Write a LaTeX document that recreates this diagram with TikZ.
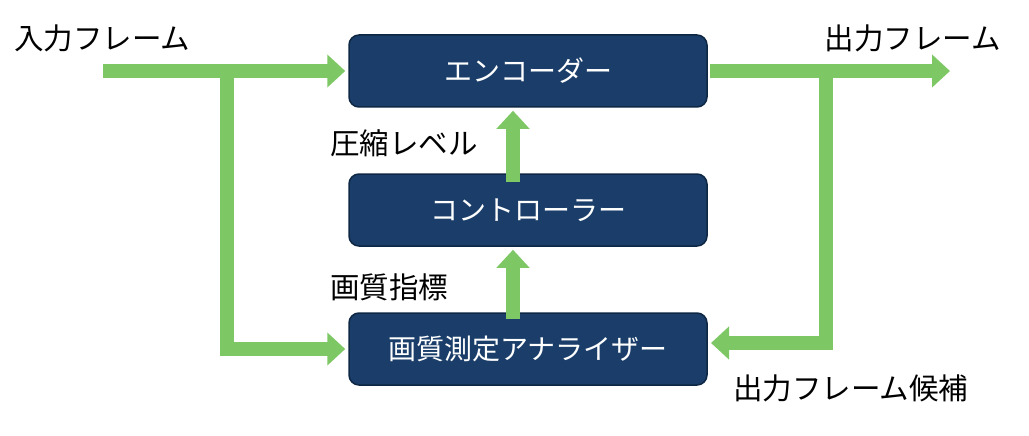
\documentclass[tikz,border=0pt]{standalone}
\usepackage{fontspec}
\setmainfont{Noto Sans CJK JP}
\usetikzlibrary{arrows.meta}
\definecolor{navy}{HTML}{1A3E69}
\definecolor{navyedge}{HTML}{0E2744}
\definecolor{flow}{HTML}{7DC864}
\tikzset{
  blk/.style={draw=navyedge, line width=1.5pt, fill=navy, rounded corners=10pt,
    minimum width=358pt, minimum height=72pt, text=white, font=\fontsize{28}{32}\selectfont, inner sep=0pt},
  lbl/.style={font=\fontsize{29.5}{33}\selectfont, text=black, inner sep=0pt},
  flowline/.style={draw=flow, line width=14pt, line join=miter},
  flowarrow/.style={flowline, -{Triangle[length=18pt,width=32pt]}, shorten >=3pt}
}
\begin{document}
\begin{tikzpicture}[x=1pt,y=-1pt]
\useasboundingbox (0,0) rectangle (1029,436);
\node[blk] (enc) at (528,71) {エンコーダー};
\node[blk] (ctl) at (528,210) {コントローラー};
\node[blk] (ana) at (528,349) {画質測定アナライザー};
\coordinate (in) at (103,71);
\coordinate (inb) at (227,71);
\coordinate (inc) at (227,349);
\coordinate (out) at (953,71);
\coordinate (outb) at (826,71);
\coordinate (outc) at (826,343);
\coordinate (encout) at (708,71);
\coordinate (anain) at (708,343);
\draw[flowarrow] (in) -- (enc.west);
\draw[flowarrow] (inb) -- (inc) -- (ana.west);
\draw[flowarrow] ([xshift=2pt]encout) -- (out);
\draw[flowarrow] (outb) -- (outc) -- (anain);
\draw[flowarrow] ([yshift=-9pt]ctl.north -| 513,0) -- (enc.south -| 513,0);
\draw[flowarrow] ([yshift=-7pt]ana.north -| 513,0) -- (ctl.south -| 513,0);
\node[lbl, anchor=west] (tin) at (14,38) {入力フレーム};
\node[lbl, anchor=east] (tout) at (1001,38) {出力フレーム};
\node[lbl, anchor=west] (tcmp) at (330,143) {圧縮レベル};
\node[lbl, anchor=west] (tq) at (330,287) {画質指標};
\node[lbl, anchor=west] (tcand) at (733,388) {出力フレーム候補};
\end{tikzpicture}
\end{document}
